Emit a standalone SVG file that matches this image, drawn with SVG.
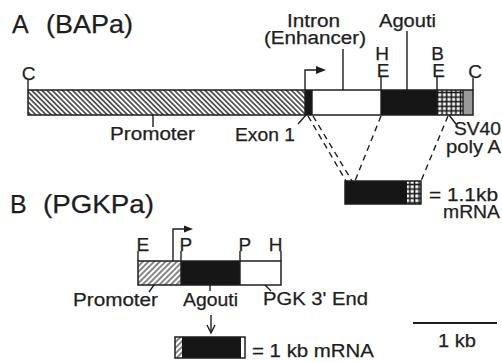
<svg xmlns="http://www.w3.org/2000/svg" width="502" height="362" viewBox="0 0 502 362">
<style>
text { font-family: "Liberation Sans", Arial, sans-serif; fill: #1e1e1e; stroke: #1e1e1e; stroke-width: 0.25; }
.lbl { font-size: 18px; }
.ltr { font-size: 19px; }
.ttl { font-size: 25px; }
.ln { stroke: #1e1e1e; stroke-width: 1.4; fill: none; }
.out { fill: none; stroke: #1e1e1e; stroke-width: 1.5; }
.blk { fill: #161616; }
.wht { fill: #ffffff; }
.dash { stroke: #1e1e1e; stroke-width: 1.4; stroke-dasharray: 6 4.5; fill: none; }
.head { fill: #1e1e1e; }
</style>
<defs>
<pattern id="hatchA" width="3.6" height="3.6" patternUnits="userSpaceOnUse" patternTransform="rotate(-45)">
<rect width="3.6" height="3.6" fill="#ffffff"/>
<line x1="1.8" y1="0" x2="1.8" y2="3.6" stroke="#222" stroke-width="1.4"/>
</pattern>
<pattern id="hatchB" width="4" height="4" patternUnits="userSpaceOnUse" patternTransform="rotate(45)">
<rect width="4" height="4" fill="#ffffff"/>
<line x1="2" y1="0" x2="2" y2="4" stroke="#222" stroke-width="1.1"/>
</pattern>
<pattern id="check" width="4.6" height="4.6" patternUnits="userSpaceOnUse">
<rect width="4.6" height="4.6" fill="#1a1a1a"/>
<rect x="1.3" y="1.3" width="3" height="3" fill="#ffffff"/>
</pattern>
</defs>
<rect width="502" height="362" fill="#ffffff"/>

<g id="title-a"><text class="ttl" x="12" y="33">A <tspan x="46" textLength="87" lengthAdjust="spacingAndGlyphs">(BAPa)</tspan></text></g>

<g id="construct-a">
<rect x="28" y="90" width="277" height="25" fill="url(#hatchA)"/>
<rect class="blk" x="305" y="90" width="7" height="25"/>
<rect class="wht" x="312" y="90" width="69" height="25"/>
<rect class="blk" x="381" y="90" width="56" height="25"/>
<rect x="437" y="90" width="26" height="25" fill="url(#check)"/>
<rect x="463" y="90" width="10" height="25" fill="#9a9a9a"/>
<path class="ln" d="M305,90V115M312,90V115M381,90V115M437,90V115M463,90V115"/>
<rect class="out" x="28" y="90" width="445" height="25"/>
<path class="ln" d="M305,90V70H318"/>
<polygon class="head" points="316,66 326,70 316,74"/>
</g>

<g id="sites-a">
<path class="ln" d="M28,80V90M381,77V90M437,77V90M473,78V90"/>
<text class="ltr" x="28.5" y="80" text-anchor="middle">C</text>
<text class="ltr" x="382" y="59.5" text-anchor="middle">H</text>
<text class="ltr" x="383" y="77" text-anchor="middle">E</text>
<text class="ltr" x="437.5" y="59.5" text-anchor="middle">B</text>
<text class="ltr" x="438.5" y="77" text-anchor="middle">E</text>
<text class="ltr" x="475" y="78" text-anchor="middle">C</text>
</g>

<g id="labels-a">
<path class="ln" d="M343,49V90M407,31V90M153,115V127M306,115L298,124M449,115L456,124"/>
<text class="lbl" x="287" y="27" textLength="53" lengthAdjust="spacingAndGlyphs">Intron</text>
<text class="lbl" x="264" y="43.5" textLength="102" lengthAdjust="spacingAndGlyphs">(Enhancer)</text>
<text class="lbl" x="379" y="27" textLength="57" lengthAdjust="spacingAndGlyphs">Agouti</text>
<text class="lbl" x="110" y="140" textLength="85" lengthAdjust="spacingAndGlyphs">Promoter</text>
<text class="lbl" x="235" y="141" textLength="60" lengthAdjust="spacingAndGlyphs">Exon 1</text>
<text class="lbl" x="454" y="135" textLength="47" lengthAdjust="spacingAndGlyphs">SV40</text>
<text class="lbl" x="446" y="153" textLength="55" lengthAdjust="spacingAndGlyphs">poly A</text>
</g>

<g id="mrna-a">
<rect class="blk" x="345" y="181" width="62" height="23"/>
<rect x="407" y="181" width="14" height="23" fill="url(#check)"/>
<rect class="out" x="345" y="181" width="76" height="23"/>
<text class="lbl" x="429" y="201" textLength="69" lengthAdjust="spacingAndGlyphs">= 1.1kb</text>
<text class="lbl" x="443" y="218" textLength="57" lengthAdjust="spacingAndGlyphs">mRNA</text>
</g>

<g id="title-b"><text class="ttl" x="10" y="213">B <tspan x="43" textLength="111" lengthAdjust="spacingAndGlyphs">(PGKPa)</tspan></text></g>

<g id="construct-b">
<rect x="138" y="261" width="43" height="24" fill="url(#hatchB)"/>
<rect class="blk" x="181" y="261" width="59" height="24"/>
<rect class="wht" x="240" y="261" width="41" height="24"/>
<path class="ln" d="M181,261V285M240,261V285"/>
<rect class="out" x="138" y="261" width="143" height="24"/>
<path class="ln" d="M173,261V229H186"/>
<polygon class="head" points="184,225.5 193,229 184,232.5"/>
<path class="ln" d="M138,251V261M181,251V261M240,251V261M281,251V261"/>
<text class="ltr" x="136.5" y="251">E</text>
<text class="ltr" x="179.5" y="251">P</text>
<text class="ltr" x="238.5" y="251">P</text>
<text class="ltr" x="282.5" y="251" text-anchor="end">H</text>
</g>

<g id="labels-b">
<path class="ln" d="M154,285L149,292M210,285V291M265,285L271,291"/>
<text class="lbl" x="73" y="306" textLength="85" lengthAdjust="spacingAndGlyphs">Promoter</text>
<text class="lbl" x="183" y="306" textLength="55" lengthAdjust="spacingAndGlyphs">Agouti</text>
<text class="lbl" x="263" y="305" textLength="105" lengthAdjust="spacingAndGlyphs">PGK 3' End</text>
</g>

<g id="mrna-b">
<rect x="175" y="337" width="7" height="21" fill="url(#hatchB)"/>
<rect class="blk" x="182" y="337" width="59" height="21"/>
<rect class="wht" x="241" y="337" width="4" height="21"/>
<rect class="out" x="175" y="337" width="70" height="21"/>
<text class="lbl" x="252" y="357" textLength="122" lengthAdjust="spacingAndGlyphs">= 1 kb mRNA</text>
</g>

<g id="scale-bar">
<line x1="413" y1="323" x2="497" y2="323" stroke="#1e1e1e" stroke-width="2"/>
<text class="lbl" x="438" y="347" textLength="38" lengthAdjust="spacingAndGlyphs">1 kb</text>
</g>

<g id="connectors">
<line class="dash" x1="308" y1="116" x2="346" y2="181"/>
<line class="dash" x1="313" y1="116" x2="352" y2="181"/>
<line class="dash" x1="381" y1="116" x2="355" y2="181"/>
<line class="dash" x1="448" y1="116" x2="421" y2="181"/>
<line class="ln" x1="211" y1="315" x2="211" y2="332"/>
<polyline class="ln" points="207,325 211,333 215,325"/>
</g>
</svg>
